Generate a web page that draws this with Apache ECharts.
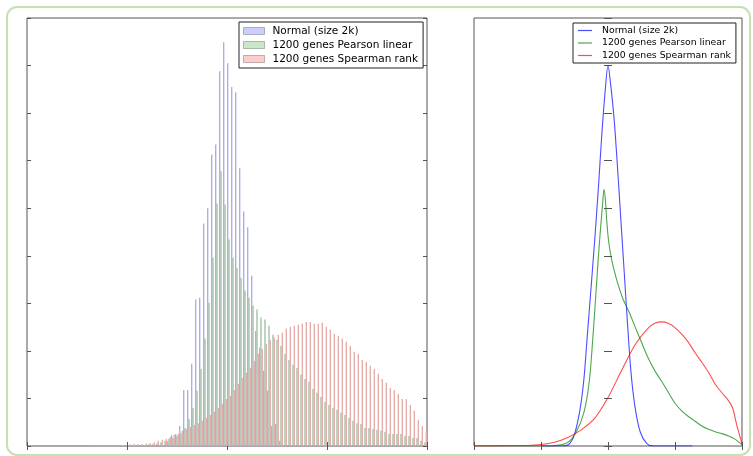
<!DOCTYPE html>
<html>
<head>
<meta charset="utf-8">
<script src="https://cdn.jsdelivr.net/npm/echarts@6/dist/echarts.min.js"></script>
<style>
html, body { margin: 0; padding: 0; background: #fff; }
#main { width: 753px; height: 456px; }
</style>
</head>
<body>
<div id="main"></div>
<script>
// histogram bins: 100 bins from -1 to 1
var binCenters = [];
for (var i = 0; i < 100; i++) {
    binCenters.push((-0.99 + 0.02 * i).toFixed(2));
}

var seriesNames = ['Normal (size 2k)', '1200 genes Pearson linear', '1200 genes Spearman rank'];

// left panel, bar heights per bin
var normalHist = [
    0, 0, 0, 0, 0, 0, 0, 0, 0, 0,
    0, 0, 0, 0, 0, 0, 0, 0, 0, 0,
    0, 0, 0, 0, 0, 0, 0, 0, 0, 0,
    0, 0, 0, 0, 0, 0.10, 0.23, 0.25, 0.42, 1.18,
    1.18, 1.73, 3.08, 3.12, 4.68, 5.00, 6.13, 6.34, 7.88, 8.49,
    8.05, 7.55, 7.44, 5.84, 4.93, 4.60, 3.58, 2.42, 2.07, 1.58,
    1.16, 0.42, 0.46, 0.11, 0, 0, 0, 0, 0, 0,
    0, 0, 0, 0, 0, 0, 0, 0, 0, 0,
    0, 0, 0, 0, 0, 0, 0, 0, 0, 0,
    0, 0, 0, 0, 0, 0, 0, 0, 0, 0
];

var pearsonHist = [
    0, 0, 0, 0, 0, 0, 0, 0, 0, 0,
    0, 0, 0, 0, 0, 0, 0, 0, 0, 0,
    0, 0, 0, 0, 0, 0.01, 0.01, 0.01, 0.01, 0.02,
    0.04, 0.04, 0.06, 0.08, 0.11, 0.15, 0.17, 0.21, 0.27, 0.38,
    0.57, 0.80, 1.16, 1.62, 2.26, 3.01, 3.96, 5.10, 5.78, 5.08,
    4.34, 3.96, 3.75, 3.54, 3.27, 3.12, 2.95, 2.87, 2.70, 2.66,
    2.53, 2.34, 2.23, 2.11, 1.94, 1.81, 1.71, 1.64, 1.50, 1.41,
    1.35, 1.20, 1.12, 1.03, 0.93, 0.86, 0.80, 0.76, 0.70, 0.65,
    0.59, 0.53, 0.48, 0.46, 0.38, 0.38, 0.36, 0.34, 0.32, 0.30,
    0.25, 0.25, 0.25, 0.25, 0.21, 0.21, 0.17, 0.17, 0.11, 0.08
];

var spearmanHist = [
    0, 0, 0, 0, 0, 0, 0, 0, 0, 0,
    0, 0, 0, 0, 0, 0, 0.02, 0.02, 0.02, 0.02,
    0.02, 0.02, 0.02, 0.02, 0.02, 0.03, 0.04, 0.04, 0.04, 0.05,
    0.06, 0.08, 0.11, 0.13, 0.15, 0.19, 0.23, 0.25, 0.32, 0.36,
    0.40, 0.44, 0.48, 0.53, 0.59, 0.65, 0.72, 0.80, 0.89, 0.99,
    1.05, 1.18, 1.31, 1.43, 1.54, 1.64, 1.79, 1.94, 2.04, 2.15,
    2.23, 2.28, 2.34, 2.38, 2.47, 2.51, 2.53, 2.55, 2.57, 2.61,
    2.61, 2.57, 2.57, 2.59, 2.51, 2.45, 2.36, 2.32, 2.26, 2.19,
    2.11, 1.98, 1.94, 1.81, 1.77, 1.69, 1.62, 1.52, 1.41, 1.33,
    1.22, 1.18, 1.10, 0.99, 0.99, 0.86, 0.74, 0.55, 0.42, 0.32
];

// right panel, density curves [x, y]
var normalKde = [
    [-0.50, 0], [-0.34, 0], [-0.29, 0.04], [-0.25, 0.25], [-0.21, 0.75], [-0.18, 1.4],
    [-0.155, 2.3], [-0.13, 3.2], [-0.10, 4.3], [-0.07, 5.5], [-0.045, 6.6], [-0.02, 7.5],
    [0, 8.0], [0.02, 7.6], [0.045, 6.9], [0.07, 5.9], [0.095, 4.8], [0.12, 3.7],
    [0.145, 2.6], [0.17, 1.6], [0.20, 0.85], [0.24, 0.3], [0.29, 0.05], [0.34, 0], [0.63, 0]
];

var pearsonKde = [
    [-1, 0], [-0.48, 0], [-0.31, 0.06], [-0.24, 0.28], [-0.18, 0.7], [-0.14, 1.35],
    [-0.115, 2.2], [-0.095, 3.0], [-0.075, 3.85], [-0.055, 4.6], [-0.04, 5.1], [-0.03, 5.4],
    [-0.02, 5.2], [-0.01, 4.75], [0.005, 4.3], [0.025, 3.95], [0.05, 3.65], [0.08, 3.35],
    [0.115, 3.07], [0.16, 2.8], [0.20, 2.52], [0.25, 2.18], [0.30, 1.85], [0.35, 1.58],
    [0.40, 1.36], [0.45, 1.13], [0.50, 0.9], [0.55, 0.74], [0.60, 0.62], [0.65, 0.52],
    [0.70, 0.42], [0.75, 0.35], [0.80, 0.30], [0.85, 0.26], [0.90, 0.21], [0.95, 0.14], [1.0, 0.03]
];

var spearmanKde = [
    [-1, 0], [-0.75, 0.005], [-0.6, 0.01], [-0.5, 0.03], [-0.4, 0.08], [-0.3, 0.18],
    [-0.2, 0.34], [-0.1, 0.58], [0, 1.02], [0.1, 1.58], [0.2, 2.12], [0.3, 2.48],
    [0.35, 2.58], [0.4, 2.61], [0.45, 2.58], [0.5, 2.49], [0.55, 2.35], [0.6, 2.18],
    [0.65, 1.96], [0.7, 1.76], [0.75, 1.55], [0.8, 1.3], [0.85, 1.12], [0.9, 0.95],
    [0.93, 0.8], [0.96, 0.45], [1.0, 0.05]
];

var barColors = ['#a9a9e6', '#9dbd9d', '#e5a9a9'];
var lineColors = ['rgba(0,0,255,0.7)', 'rgba(0,128,0,0.7)', 'rgba(255,0,0,0.7)'];
var patchColors = ['rgba(0,0,255,0.2)', 'rgba(0,128,0,0.2)', 'rgba(255,0,0,0.2)'];

var frameColor = '#555';
var tickStyle = { show: true, inside: true, length: 4, lineStyle: { color: frameColor } };

function valueAxis(grid, pos, min, max, step) {
    return {
        type: 'value', gridIndex: grid, position: pos,
        min: min, max: max, interval: step,
        axisLine: { show: false },
        axisTick: tickStyle,
        axisLabel: { show: false },
        splitLine: { show: false }
    };
}

function catAxis(pos) {
    return {
        type: 'category', gridIndex: 0, position: pos,
        data: binCenters, boundaryGap: true,
        axisLine: { show: false },
        axisTick: { show: true, inside: true, length: 4, interval: 24, lineStyle: { color: frameColor } },
        axisLabel: { show: false },
        splitLine: { show: false }
    };
}

var histData = [normalHist, pearsonHist, spearmanHist];
var kdeData = [normalKde, pearsonKde, spearmanKde];
var series = [];

histData.forEach(function (d, k) {
    series.push({
        name: seriesNames[k],
        type: 'bar',
        xAxisIndex: 0, yAxisIndex: 0,
        barWidth: 1.3,
        barGap: '0%',
        itemStyle: { color: barColors[k] },
        data: d
    });
});

kdeData.forEach(function (d, k) {
    series.push({
        name: 'kde:' + seriesNames[k],
        type: 'line',
        xAxisIndex: 2, yAxisIndex: 2,
        symbol: 'none',
        smooth: 0.3,
        lineStyle: { color: lineColors[k], width: 1.1 },
        itemStyle: { color: lineColors[k] },
        data: d
    });
});

var chart = echarts.init(document.getElementById('main'), null, { renderer: 'canvas' });

chart.setOption({
    animation: false,
    backgroundColor: '#fff',
    graphic: [{
        type: 'rect',
        shape: { x: 7, y: 7, width: 743, height: 448, r: 10 },
        style: { fill: null, stroke: '#c6e0b4', lineWidth: 2 },
        z: -1
    }],
    grid: [
        { left: 27, top: 18, width: 400, height: 428, show: true, borderColor: frameColor, borderWidth: 1 },
        { left: 474, top: 18, width: 268, height: 428, show: true, borderColor: frameColor, borderWidth: 1 }
    ],
    xAxis: [
        catAxis('bottom'),
        catAxis('top'),
        valueAxis(1, 'bottom', -1, 1, 0.5),
        valueAxis(1, 'top', -1, 1, 0.5)
    ],
    yAxis: [
        valueAxis(0, 'left', 0, 9, 1),
        valueAxis(0, 'right', 0, 9, 1),
        valueAxis(1, 'left', 0, 9, 1),
        valueAxis(1, 'right', 0, 9, 1)
    ],
    legend: [
        {
            left: 239, top: 22,
            orient: 'vertical',
            icon: 'rect',
            itemWidth: 21, itemHeight: 7, itemGap: 2,
            padding: [3, 5, 3, 4],
            borderColor: '#222', borderWidth: 1, backgroundColor: '#fff',
            selectedMode: false,
            textStyle: { fontFamily: 'DejaVu Sans', fontSize: 10.5, color: '#000', lineHeight: 12, padding: [0, 0, 0, 3] },
            data: seriesNames.map(function (n, k) {
                return { name: n, itemStyle: { color: patchColors[k], borderColor: 'rgba(0,0,0,0.25)', borderWidth: 1 } };
            })
        },
        {
            left: 573, top: 23,
            orient: 'vertical',
            icon: 'rect',
            itemWidth: 14, itemHeight: 1.2, itemGap: 1.5,
            padding: [2, 5, 2, 5],
            borderColor: '#222', borderWidth: 1, backgroundColor: '#fff',
            selectedMode: false,
            formatter: function (name) { return name.replace('kde:', ''); },
            textStyle: { fontFamily: 'DejaVu Sans', fontSize: 9.3, color: '#000', lineHeight: 11, padding: [0, 0, 0, 5] },
            data: seriesNames.map(function (n, k) {
                return { name: 'kde:' + n, itemStyle: { color: lineColors[k], borderWidth: 0 } };
            })
        }
    ],
    series: series
});
</script>
</body>
</html>
